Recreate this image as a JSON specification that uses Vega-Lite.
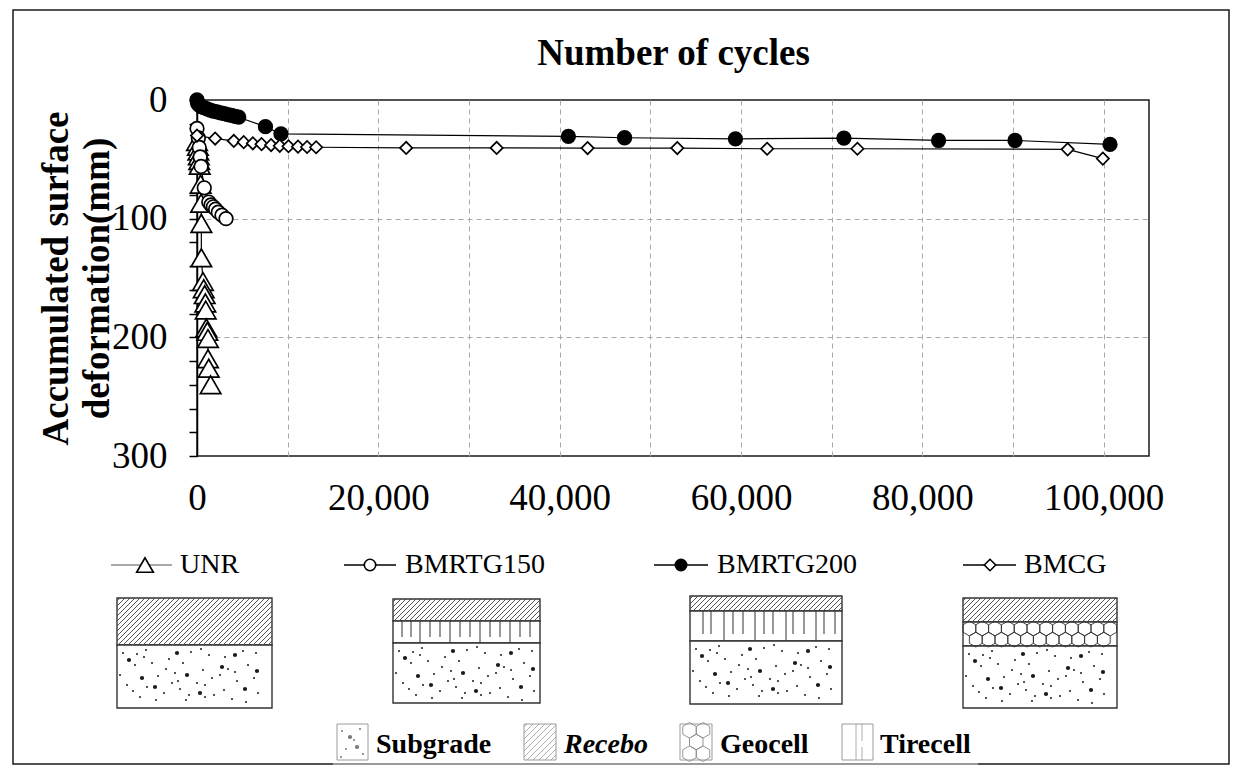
{
  "$schema": "https://vega.github.io/schema/vega-lite/v6.json",
  "width": 952,
  "height": 356,
  "autosize": {"type": "none"},
  "padding": {"left": 197, "top": 100, "right": 92, "bottom": 318},
  "background": "white",
  "config": {
    "view": {"stroke": "#1a1a1a", "strokeWidth": 1.5},
    "font": "Liberation Serif"
  },
  "datasets": {
    "deformation": [
      {"series": "UNR", "i": 0, "cycles": 0, "def": 35},
      {"series": "UNR", "i": 1, "cycles": 100, "def": 39},
      {"series": "UNR", "i": 2, "cycles": 150, "def": 43},
      {"series": "UNR", "i": 3, "cycles": 200, "def": 47},
      {"series": "UNR", "i": 4, "cycles": 250, "def": 51},
      {"series": "UNR", "i": 5, "cycles": 300, "def": 55},
      {"series": "UNR", "i": 6, "cycles": 400, "def": 71},
      {"series": "UNR", "i": 7, "cycles": 450, "def": 87},
      {"series": "UNR", "i": 8, "cycles": 480, "def": 104},
      {"series": "UNR", "i": 9, "cycles": 480, "def": 133},
      {"series": "UNR", "i": 10, "cycles": 660, "def": 153},
      {"series": "UNR", "i": 11, "cycles": 740, "def": 159},
      {"series": "UNR", "i": 12, "cycles": 850, "def": 164},
      {"series": "UNR", "i": 13, "cycles": 920, "def": 171},
      {"series": "UNR", "i": 14, "cycles": 960, "def": 177},
      {"series": "UNR", "i": 15, "cycles": 1030, "def": 192},
      {"series": "UNR", "i": 16, "cycles": 1140, "def": 195},
      {"series": "UNR", "i": 17, "cycles": 1210, "def": 201},
      {"series": "UNR", "i": 18, "cycles": 1210, "def": 218},
      {"series": "UNR", "i": 19, "cycles": 1290, "def": 226},
      {"series": "UNR", "i": 20, "cycles": 1500, "def": 240},
      {"series": "BMRTG150", "i": 0, "cycles": 0, "def": 24},
      {"series": "BMRTG150", "i": 1, "cycles": 150, "def": 32},
      {"series": "BMRTG150", "i": 2, "cycles": 250, "def": 40},
      {"series": "BMRTG150", "i": 3, "cycles": 350, "def": 48},
      {"series": "BMRTG150", "i": 4, "cycles": 450, "def": 56},
      {"series": "BMRTG150", "i": 5, "cycles": 800, "def": 74},
      {"series": "BMRTG150", "i": 6, "cycles": 1300, "def": 86},
      {"series": "BMRTG150", "i": 7, "cycles": 1550, "def": 88.5},
      {"series": "BMRTG150", "i": 8, "cycles": 1800, "def": 90},
      {"series": "BMRTG150", "i": 9, "cycles": 2050, "def": 92},
      {"series": "BMRTG150", "i": 10, "cycles": 2350, "def": 94.5},
      {"series": "BMRTG150", "i": 11, "cycles": 2750, "def": 97},
      {"series": "BMRTG150", "i": 12, "cycles": 3200, "def": 100},
      {"series": "BMRTG200", "i": 0, "cycles": 0, "def": 0},
      {"series": "BMRTG200", "i": 1, "cycles": 60, "def": 2.5},
      {"series": "BMRTG200", "i": 2, "cycles": 200, "def": 4},
      {"series": "BMRTG200", "i": 3, "cycles": 450, "def": 5.5},
      {"series": "BMRTG200", "i": 4, "cycles": 750, "def": 6.5},
      {"series": "BMRTG200", "i": 5, "cycles": 1100, "def": 7.5},
      {"series": "BMRTG200", "i": 6, "cycles": 1450, "def": 8.5},
      {"series": "BMRTG200", "i": 7, "cycles": 1800, "def": 9.3},
      {"series": "BMRTG200", "i": 8, "cycles": 2200, "def": 10},
      {"series": "BMRTG200", "i": 9, "cycles": 2600, "def": 10.8},
      {"series": "BMRTG200", "i": 10, "cycles": 3000, "def": 11.5},
      {"series": "BMRTG200", "i": 11, "cycles": 3400, "def": 12.3},
      {"series": "BMRTG200", "i": 12, "cycles": 3800, "def": 13},
      {"series": "BMRTG200", "i": 13, "cycles": 4200, "def": 13.8},
      {"series": "BMRTG200", "i": 14, "cycles": 4600, "def": 14.5},
      {"series": "BMRTG200", "i": 15, "cycles": 7550, "def": 22.5},
      {"series": "BMRTG200", "i": 16, "cycles": 9260, "def": 28.5},
      {"series": "BMRTG200", "i": 17, "cycles": 40960, "def": 30.6},
      {"series": "BMRTG200", "i": 18, "cycles": 47160, "def": 31.8},
      {"series": "BMRTG200", "i": 19, "cycles": 59390, "def": 32.7},
      {"series": "BMRTG200", "i": 20, "cycles": 71350, "def": 32.1},
      {"series": "BMRTG200", "i": 21, "cycles": 81790, "def": 34.1},
      {"series": "BMRTG200", "i": 22, "cycles": 90220, "def": 34.1},
      {"series": "BMRTG200", "i": 23, "cycles": 100700, "def": 37.4},
      {"series": "BMCG", "i": 0, "cycles": 0, "def": 30},
      {"series": "BMCG", "i": 1, "cycles": 2000, "def": 32.5},
      {"series": "BMCG", "i": 2, "cycles": 4060, "def": 34.5},
      {"series": "BMCG", "i": 3, "cycles": 5150, "def": 35.5},
      {"series": "BMCG", "i": 4, "cycles": 6160, "def": 36.5},
      {"series": "BMCG", "i": 5, "cycles": 7120, "def": 37.2},
      {"series": "BMCG", "i": 6, "cycles": 8170, "def": 38},
      {"series": "BMCG", "i": 7, "cycles": 9130, "def": 38.6},
      {"series": "BMCG", "i": 8, "cycles": 10090, "def": 39},
      {"series": "BMCG", "i": 9, "cycles": 11140, "def": 39.3},
      {"series": "BMCG", "i": 10, "cycles": 12140, "def": 39.6},
      {"series": "BMCG", "i": 11, "cycles": 13140, "def": 39.8},
      {"series": "BMCG", "i": 12, "cycles": 23070, "def": 40.4},
      {"series": "BMCG", "i": 13, "cycles": 33050, "def": 40.4},
      {"series": "BMCG", "i": 14, "cycles": 43080, "def": 40.5},
      {"series": "BMCG", "i": 15, "cycles": 52970, "def": 40.5},
      {"series": "BMCG", "i": 16, "cycles": 62880, "def": 41.1},
      {"series": "BMCG", "i": 17, "cycles": 72840, "def": 41.1},
      {"series": "BMCG", "i": 18, "cycles": 96030, "def": 41.6},
      {"series": "BMCG", "i": 19, "cycles": 99910, "def": 49.4}
    ],
    "topTicks": [
      {"cycles": 10000}, {"cycles": 20000}, {"cycles": 30000}, {"cycles": 40000}, {"cycles": 50000},
      {"cycles": 60000}, {"cycles": 70000}, {"cycles": 80000}, {"cycles": 90000}, {"cycles": 100000}
    ],
    "frame": [{"fx": 13, "fy": 10, "fx2": 1229, "fy2": 764}],
    "frameGap": [{"fx": 333, "fx2": 978, "fy": 764}],
    "keyLines": [
      {"series": "UNR", "fx": 111, "fx2": 172, "fy": 565},
      {"series": "BMRTG150", "fx": 344, "fx2": 396, "fy": 565},
      {"series": "BMRTG200", "fx": 654, "fx2": 708, "fy": 565},
      {"series": "BMCG", "fx": 963, "fx2": 1016, "fy": 565}
    ],
    "keyMarks": [
      {"series": "UNR", "fx": 145, "fy": 565},
      {"series": "BMRTG150", "fx": 370, "fy": 565},
      {"series": "BMRTG200", "fx": 681, "fy": 565},
      {"series": "BMCG", "fx": 990, "fy": 565}
    ],
    "keyText": [
      {"label": "UNR", "fx": 180, "fy": 565},
      {"label": "BMRTG150", "fx": 405, "fy": 565},
      {"label": "BMRTG200", "fx": 717, "fy": 565},
      {"label": "BMCG", "fx": 1024, "fy": 565}
    ],
    "regions": [
      {"fx": 117, "fy": 598, "fx2": 272, "fy2": 645},
      {"fx": 117, "fy": 645, "fx2": 272, "fy2": 708},
      {"fx": 393, "fy": 599, "fx2": 540, "fy2": 621},
      {"fx": 393, "fy": 621, "fx2": 540, "fy2": 643},
      {"fx": 393, "fy": 643, "fx2": 540, "fy2": 703},
      {"fx": 690, "fy": 596, "fx2": 842, "fy2": 611},
      {"fx": 690, "fy": 611, "fx2": 842, "fy2": 641},
      {"fx": 690, "fy": 641, "fx2": 842, "fy2": 704},
      {"fx": 963, "fy": 598, "fx2": 1117, "fy2": 622},
      {"fx": 963, "fy": 622, "fx2": 1117, "fy2": 646},
      {"fx": 963, "fy": 646, "fx2": 1117, "fy2": 708}
    ],
    "hatch": [
      {"fx": 117, "fy": 601, "fx2": 120, "fy2": 598}, {"fx": 117, "fy": 606, "fx2": 125, "fy2": 598},
      {"fx": 117, "fy": 611, "fx2": 130, "fy2": 598}, {"fx": 117, "fy": 616, "fx2": 135, "fy2": 598},
      {"fx": 117, "fy": 621, "fx2": 140, "fy2": 598}, {"fx": 117, "fy": 626, "fx2": 145, "fy2": 598},
      {"fx": 117, "fy": 631, "fx2": 150, "fy2": 598}, {"fx": 117, "fy": 636, "fx2": 155, "fy2": 598},
      {"fx": 117, "fy": 641, "fx2": 160, "fy2": 598}, {"fx": 118, "fy": 645, "fx2": 165, "fy2": 598},
      {"fx": 123, "fy": 645, "fx2": 170, "fy2": 598}, {"fx": 128, "fy": 645, "fx2": 175, "fy2": 598},
      {"fx": 133, "fy": 645, "fx2": 180, "fy2": 598}, {"fx": 138, "fy": 645, "fx2": 185, "fy2": 598},
      {"fx": 143, "fy": 645, "fx2": 190, "fy2": 598}, {"fx": 148, "fy": 645, "fx2": 195, "fy2": 598},
      {"fx": 153, "fy": 645, "fx2": 200, "fy2": 598}, {"fx": 158, "fy": 645, "fx2": 205, "fy2": 598},
      {"fx": 163, "fy": 645, "fx2": 210, "fy2": 598}, {"fx": 168, "fy": 645, "fx2": 215, "fy2": 598},
      {"fx": 173, "fy": 645, "fx2": 220, "fy2": 598}, {"fx": 178, "fy": 645, "fx2": 225, "fy2": 598},
      {"fx": 183, "fy": 645, "fx2": 230, "fy2": 598}, {"fx": 188, "fy": 645, "fx2": 235, "fy2": 598},
      {"fx": 193, "fy": 645, "fx2": 240, "fy2": 598}, {"fx": 198, "fy": 645, "fx2": 245, "fy2": 598},
      {"fx": 203, "fy": 645, "fx2": 250, "fy2": 598}, {"fx": 208, "fy": 645, "fx2": 255, "fy2": 598},
      {"fx": 213, "fy": 645, "fx2": 260, "fy2": 598}, {"fx": 218, "fy": 645, "fx2": 265, "fy2": 598},
      {"fx": 223, "fy": 645, "fx2": 270, "fy2": 598}, {"fx": 228, "fy": 645, "fx2": 272, "fy2": 601},
      {"fx": 233, "fy": 645, "fx2": 272, "fy2": 606}, {"fx": 238, "fy": 645, "fx2": 272, "fy2": 611},
      {"fx": 243, "fy": 645, "fx2": 272, "fy2": 616}, {"fx": 248, "fy": 645, "fx2": 272, "fy2": 621},
      {"fx": 253, "fy": 645, "fx2": 272, "fy2": 626}, {"fx": 258, "fy": 645, "fx2": 272, "fy2": 631},
      {"fx": 263, "fy": 645, "fx2": 272, "fy2": 636}, {"fx": 268, "fy": 645, "fx2": 272, "fy2": 641},

      {"fx": 393, "fy": 602, "fx2": 396, "fy2": 599}, {"fx": 393, "fy": 607, "fx2": 401, "fy2": 599},
      {"fx": 393, "fy": 612, "fx2": 406, "fy2": 599}, {"fx": 393, "fy": 617, "fx2": 411, "fy2": 599},
      {"fx": 394, "fy": 621, "fx2": 416, "fy2": 599}, {"fx": 399, "fy": 621, "fx2": 421, "fy2": 599},
      {"fx": 404, "fy": 621, "fx2": 426, "fy2": 599}, {"fx": 409, "fy": 621, "fx2": 431, "fy2": 599},
      {"fx": 414, "fy": 621, "fx2": 436, "fy2": 599}, {"fx": 419, "fy": 621, "fx2": 441, "fy2": 599},
      {"fx": 424, "fy": 621, "fx2": 446, "fy2": 599}, {"fx": 429, "fy": 621, "fx2": 451, "fy2": 599},
      {"fx": 434, "fy": 621, "fx2": 456, "fy2": 599}, {"fx": 439, "fy": 621, "fx2": 461, "fy2": 599},
      {"fx": 444, "fy": 621, "fx2": 466, "fy2": 599}, {"fx": 449, "fy": 621, "fx2": 471, "fy2": 599},
      {"fx": 454, "fy": 621, "fx2": 476, "fy2": 599}, {"fx": 459, "fy": 621, "fx2": 481, "fy2": 599},
      {"fx": 464, "fy": 621, "fx2": 486, "fy2": 599}, {"fx": 469, "fy": 621, "fx2": 491, "fy2": 599},
      {"fx": 474, "fy": 621, "fx2": 496, "fy2": 599}, {"fx": 479, "fy": 621, "fx2": 501, "fy2": 599},
      {"fx": 484, "fy": 621, "fx2": 506, "fy2": 599}, {"fx": 489, "fy": 621, "fx2": 511, "fy2": 599},
      {"fx": 494, "fy": 621, "fx2": 516, "fy2": 599}, {"fx": 499, "fy": 621, "fx2": 521, "fy2": 599},
      {"fx": 504, "fy": 621, "fx2": 526, "fy2": 599}, {"fx": 509, "fy": 621, "fx2": 531, "fy2": 599},
      {"fx": 514, "fy": 621, "fx2": 536, "fy2": 599}, {"fx": 519, "fy": 621, "fx2": 540, "fy2": 600},
      {"fx": 524, "fy": 621, "fx2": 540, "fy2": 605}, {"fx": 529, "fy": 621, "fx2": 540, "fy2": 610},
      {"fx": 534, "fy": 621, "fx2": 540, "fy2": 615},

      {"fx": 690, "fy": 599, "fx2": 693, "fy2": 596}, {"fx": 690, "fy": 604, "fx2": 698, "fy2": 596},
      {"fx": 690, "fy": 609, "fx2": 703, "fy2": 596}, {"fx": 693, "fy": 611, "fx2": 708, "fy2": 596},
      {"fx": 698, "fy": 611, "fx2": 713, "fy2": 596}, {"fx": 703, "fy": 611, "fx2": 718, "fy2": 596},
      {"fx": 708, "fy": 611, "fx2": 723, "fy2": 596}, {"fx": 713, "fy": 611, "fx2": 728, "fy2": 596},
      {"fx": 718, "fy": 611, "fx2": 733, "fy2": 596}, {"fx": 723, "fy": 611, "fx2": 738, "fy2": 596},
      {"fx": 728, "fy": 611, "fx2": 743, "fy2": 596}, {"fx": 733, "fy": 611, "fx2": 748, "fy2": 596},
      {"fx": 738, "fy": 611, "fx2": 753, "fy2": 596}, {"fx": 743, "fy": 611, "fx2": 758, "fy2": 596},
      {"fx": 748, "fy": 611, "fx2": 763, "fy2": 596}, {"fx": 753, "fy": 611, "fx2": 768, "fy2": 596},
      {"fx": 758, "fy": 611, "fx2": 773, "fy2": 596}, {"fx": 763, "fy": 611, "fx2": 778, "fy2": 596},
      {"fx": 768, "fy": 611, "fx2": 783, "fy2": 596}, {"fx": 773, "fy": 611, "fx2": 788, "fy2": 596},
      {"fx": 778, "fy": 611, "fx2": 793, "fy2": 596}, {"fx": 783, "fy": 611, "fx2": 798, "fy2": 596},
      {"fx": 788, "fy": 611, "fx2": 803, "fy2": 596}, {"fx": 793, "fy": 611, "fx2": 808, "fy2": 596},
      {"fx": 798, "fy": 611, "fx2": 813, "fy2": 596}, {"fx": 803, "fy": 611, "fx2": 818, "fy2": 596},
      {"fx": 808, "fy": 611, "fx2": 823, "fy2": 596}, {"fx": 813, "fy": 611, "fx2": 828, "fy2": 596},
      {"fx": 818, "fy": 611, "fx2": 833, "fy2": 596}, {"fx": 823, "fy": 611, "fx2": 838, "fy2": 596},
      {"fx": 828, "fy": 611, "fx2": 842, "fy2": 597}, {"fx": 833, "fy": 611, "fx2": 842, "fy2": 602},
      {"fx": 838, "fy": 611, "fx2": 842, "fy2": 607},

      {"fx": 963, "fy": 601, "fx2": 966, "fy2": 598}, {"fx": 963, "fy": 606, "fx2": 971, "fy2": 598},
      {"fx": 963, "fy": 611, "fx2": 976, "fy2": 598}, {"fx": 963, "fy": 616, "fx2": 981, "fy2": 598},
      {"fx": 963, "fy": 621, "fx2": 986, "fy2": 598}, {"fx": 967, "fy": 622, "fx2": 991, "fy2": 598},
      {"fx": 972, "fy": 622, "fx2": 996, "fy2": 598}, {"fx": 977, "fy": 622, "fx2": 1001, "fy2": 598},
      {"fx": 982, "fy": 622, "fx2": 1006, "fy2": 598}, {"fx": 987, "fy": 622, "fx2": 1011, "fy2": 598},
      {"fx": 992, "fy": 622, "fx2": 1016, "fy2": 598}, {"fx": 997, "fy": 622, "fx2": 1021, "fy2": 598},
      {"fx": 1002, "fy": 622, "fx2": 1026, "fy2": 598}, {"fx": 1007, "fy": 622, "fx2": 1031, "fy2": 598},
      {"fx": 1012, "fy": 622, "fx2": 1036, "fy2": 598}, {"fx": 1017, "fy": 622, "fx2": 1041, "fy2": 598},
      {"fx": 1022, "fy": 622, "fx2": 1046, "fy2": 598}, {"fx": 1027, "fy": 622, "fx2": 1051, "fy2": 598},
      {"fx": 1032, "fy": 622, "fx2": 1056, "fy2": 598}, {"fx": 1037, "fy": 622, "fx2": 1061, "fy2": 598},
      {"fx": 1042, "fy": 622, "fx2": 1066, "fy2": 598}, {"fx": 1047, "fy": 622, "fx2": 1071, "fy2": 598},
      {"fx": 1052, "fy": 622, "fx2": 1076, "fy2": 598}, {"fx": 1057, "fy": 622, "fx2": 1081, "fy2": 598},
      {"fx": 1062, "fy": 622, "fx2": 1086, "fy2": 598}, {"fx": 1067, "fy": 622, "fx2": 1091, "fy2": 598},
      {"fx": 1072, "fy": 622, "fx2": 1096, "fy2": 598}, {"fx": 1077, "fy": 622, "fx2": 1101, "fy2": 598},
      {"fx": 1082, "fy": 622, "fx2": 1106, "fy2": 598}, {"fx": 1087, "fy": 622, "fx2": 1111, "fy2": 598},
      {"fx": 1092, "fy": 622, "fx2": 1116, "fy2": 598}, {"fx": 1097, "fy": 622, "fx2": 1117, "fy2": 602},
      {"fx": 1102, "fy": 622, "fx2": 1117, "fy2": 607}, {"fx": 1107, "fy": 622, "fx2": 1117, "fy2": 612},
      {"fx": 1112, "fy": 622, "fx2": 1117, "fy2": 617}
    ],
    "tire": [
      {"fx": 402, "fy": 621, "fx2": 402, "fy2": 637}, {"fx": 411, "fy": 621, "fx2": 411, "fy2": 637},
      {"fx": 420, "fy": 621, "fx2": 420, "fy2": 643}, {"fx": 430, "fy": 621, "fx2": 430, "fy2": 637},
      {"fx": 440, "fy": 621, "fx2": 440, "fy2": 637}, {"fx": 450, "fy": 621, "fx2": 450, "fy2": 643},
      {"fx": 460, "fy": 621, "fx2": 460, "fy2": 637}, {"fx": 470, "fy": 621, "fx2": 470, "fy2": 637},
      {"fx": 480, "fy": 621, "fx2": 480, "fy2": 643}, {"fx": 490, "fy": 621, "fx2": 490, "fy2": 637},
      {"fx": 500, "fy": 621, "fx2": 500, "fy2": 637}, {"fx": 510, "fy": 621, "fx2": 510, "fy2": 643},
      {"fx": 520, "fy": 621, "fx2": 520, "fy2": 637}, {"fx": 530, "fy": 621, "fx2": 530, "fy2": 637},
      {"fx": 703, "fy": 611, "fx2": 703, "fy2": 634}, {"fx": 711, "fy": 611, "fx2": 711, "fy2": 634},
      {"fx": 724, "fy": 611, "fx2": 724, "fy2": 641}, {"fx": 733, "fy": 611, "fx2": 733, "fy2": 634},
      {"fx": 743, "fy": 611, "fx2": 743, "fy2": 634}, {"fx": 755, "fy": 611, "fx2": 755, "fy2": 641},
      {"fx": 764, "fy": 611, "fx2": 764, "fy2": 634}, {"fx": 773, "fy": 611, "fx2": 773, "fy2": 634},
      {"fx": 786, "fy": 611, "fx2": 786, "fy2": 641}, {"fx": 793, "fy": 611, "fx2": 793, "fy2": 634},
      {"fx": 804, "fy": 611, "fx2": 804, "fy2": 634}, {"fx": 816, "fy": 611, "fx2": 816, "fy2": 641},
      {"fx": 824, "fy": 611, "fx2": 824, "fy2": 634}, {"fx": 835, "fy": 611, "fx2": 835, "fy2": 634}
    ],
    "hexes": [
      {"kind": "box", "fx": 969.4, "fy": 628.5}, {"kind": "box", "fx": 982.2, "fy": 628.5},
      {"kind": "box", "fx": 995, "fy": 628.5}, {"kind": "box", "fx": 1007.8, "fy": 628.5},
      {"kind": "box", "fx": 1020.6, "fy": 628.5}, {"kind": "box", "fx": 1033.4, "fy": 628.5},
      {"kind": "box", "fx": 1046.2, "fy": 628.5}, {"kind": "box", "fx": 1059, "fy": 628.5},
      {"kind": "box", "fx": 1071.8, "fy": 628.5}, {"kind": "box", "fx": 1084.6, "fy": 628.5},
      {"kind": "box", "fx": 1097.4, "fy": 628.5}, {"kind": "box", "fx": 1110.2, "fy": 628.5},
      {"kind": "box", "fx": 975.8, "fy": 639.6}, {"kind": "box", "fx": 988.6, "fy": 639.6},
      {"kind": "box", "fx": 1001.4, "fy": 639.6}, {"kind": "box", "fx": 1014.2, "fy": 639.6},
      {"kind": "box", "fx": 1027, "fy": 639.6}, {"kind": "box", "fx": 1039.8, "fy": 639.6},
      {"kind": "box", "fx": 1052.6, "fy": 639.6}, {"kind": "box", "fx": 1065.4, "fy": 639.6},
      {"kind": "box", "fx": 1078.2, "fy": 639.6}, {"kind": "box", "fx": 1091, "fy": 639.6},
      {"kind": "box", "fx": 1103.8, "fy": 639.6},
      {"kind": "icon", "fx": 689.5, "fy": 730.3}, {"kind": "icon", "fx": 703, "fy": 730.3},
      {"kind": "icon", "fx": 696.25, "fy": 742}, {"kind": "icon", "fx": 689.5, "fy": 753.7},
      {"kind": "icon", "fx": 703, "fy": 753.7}
    ],
    "dots": [
      {"kind": "box", "grain": "fine", "fx": 123, "fy": 653}, {"kind": "box", "grain": "fine", "fx": 135, "fy": 665},
      {"kind": "box", "grain": "fine", "fx": 146, "fy": 650}, {"kind": "box", "grain": "fine", "fx": 158, "fy": 676},
      {"kind": "box", "grain": "fine", "fx": 169, "fy": 659}, {"kind": "box", "grain": "fine", "fx": 180, "fy": 689},
      {"kind": "box", "grain": "fine", "fx": 191, "fy": 652}, {"kind": "box", "grain": "fine", "fx": 203, "fy": 670},
      {"kind": "box", "grain": "fine", "fx": 214, "fy": 695}, {"kind": "box", "grain": "fine", "fx": 225, "fy": 657},
      {"kind": "box", "grain": "fine", "fx": 237, "fy": 681}, {"kind": "box", "grain": "fine", "fx": 248, "fy": 665},
      {"kind": "box", "grain": "fine", "fx": 258, "fy": 693}, {"kind": "box", "grain": "fine", "fx": 127, "fy": 685},
      {"kind": "box", "grain": "fine", "fx": 140, "fy": 697}, {"kind": "box", "grain": "fine", "fx": 152, "fy": 663},
      {"kind": "box", "grain": "fine", "fx": 164, "fy": 693}, {"kind": "box", "grain": "fine", "fx": 175, "fy": 673},
      {"kind": "box", "grain": "fine", "fx": 186, "fy": 700}, {"kind": "box", "grain": "fine", "fx": 197, "fy": 683},
      {"kind": "box", "grain": "fine", "fx": 209, "fy": 655}, {"kind": "box", "grain": "fine", "fx": 220, "fy": 675},
      {"kind": "box", "grain": "fine", "fx": 232, "fy": 699}, {"kind": "box", "grain": "fine", "fx": 243, "fy": 651},
      {"kind": "box", "grain": "fine", "fx": 254, "fy": 678}, {"kind": "box", "grain": "fine", "fx": 147, "fy": 687},
      {"kind": "box", "grain": "fine", "fx": 172, "fy": 683}, {"kind": "box", "grain": "fine", "fx": 205, "fy": 685},
      {"kind": "box", "grain": "fine", "fx": 228, "fy": 669}, {"kind": "box", "grain": "fine", "fx": 183, "fy": 663},
      {"kind": "box", "grain": "fine", "fx": 120, "fy": 675}, {"kind": "box", "grain": "fine", "fx": 133, "fy": 691},
      {"kind": "box", "grain": "fine", "fx": 144, "fy": 657}, {"kind": "box", "grain": "fine", "fx": 156, "fy": 700},
      {"kind": "box", "grain": "fine", "fx": 166, "fy": 669}, {"kind": "box", "grain": "fine", "fx": 178, "fy": 681},
      {"kind": "box", "grain": "fine", "fx": 189, "fy": 695}, {"kind": "box", "grain": "fine", "fx": 201, "fy": 649},
      {"kind": "box", "grain": "fine", "fx": 212, "fy": 678}, {"kind": "box", "grain": "fine", "fx": 224, "fy": 690},
      {"kind": "box", "grain": "fine", "fx": 235, "fy": 672}, {"kind": "box", "grain": "fine", "fx": 246, "fy": 702},
      {"kind": "box", "grain": "fine", "fx": 256, "fy": 653}, {"kind": "box", "grain": "fine", "fx": 137, "fy": 654},
      {"kind": "box", "grain": "fine", "fx": 205, "fy": 697},
      {"kind": "box", "grain": "coarse", "fx": 129, "fy": 660}, {"kind": "box", "grain": "coarse", "fx": 155, "fy": 687},
      {"kind": "box", "grain": "coarse", "fx": 177, "fy": 653}, {"kind": "box", "grain": "coarse", "fx": 200, "fy": 693},
      {"kind": "box", "grain": "coarse", "fx": 222, "fy": 667}, {"kind": "box", "grain": "coarse", "fx": 245, "fy": 689},
      {"kind": "box", "grain": "coarse", "fx": 142, "fy": 678}, {"kind": "box", "grain": "coarse", "fx": 187, "fy": 675},
      {"kind": "box", "grain": "coarse", "fx": 235, "fy": 655}, {"kind": "box", "grain": "coarse", "fx": 257, "fy": 671},

      {"kind": "box", "grain": "fine", "fx": 399, "fy": 651}, {"kind": "box", "grain": "fine", "fx": 411, "fy": 663},
      {"kind": "box", "grain": "fine", "fx": 422, "fy": 648}, {"kind": "box", "grain": "fine", "fx": 434, "fy": 674},
      {"kind": "box", "grain": "fine", "fx": 445, "fy": 657}, {"kind": "box", "grain": "fine", "fx": 456, "fy": 687},
      {"kind": "box", "grain": "fine", "fx": 467, "fy": 650}, {"kind": "box", "grain": "fine", "fx": 479, "fy": 668},
      {"kind": "box", "grain": "fine", "fx": 490, "fy": 693}, {"kind": "box", "grain": "fine", "fx": 501, "fy": 655},
      {"kind": "box", "grain": "fine", "fx": 513, "fy": 679}, {"kind": "box", "grain": "fine", "fx": 524, "fy": 663},
      {"kind": "box", "grain": "fine", "fx": 534, "fy": 691}, {"kind": "box", "grain": "fine", "fx": 403, "fy": 683},
      {"kind": "box", "grain": "fine", "fx": 416, "fy": 695}, {"kind": "box", "grain": "fine", "fx": 428, "fy": 661},
      {"kind": "box", "grain": "fine", "fx": 440, "fy": 691}, {"kind": "box", "grain": "fine", "fx": 451, "fy": 671},
      {"kind": "box", "grain": "fine", "fx": 462, "fy": 698}, {"kind": "box", "grain": "fine", "fx": 473, "fy": 681},
      {"kind": "box", "grain": "fine", "fx": 485, "fy": 653}, {"kind": "box", "grain": "fine", "fx": 496, "fy": 673},
      {"kind": "box", "grain": "fine", "fx": 508, "fy": 697}, {"kind": "box", "grain": "fine", "fx": 519, "fy": 649},
      {"kind": "box", "grain": "fine", "fx": 530, "fy": 676}, {"kind": "box", "grain": "fine", "fx": 423, "fy": 685},
      {"kind": "box", "grain": "fine", "fx": 448, "fy": 681}, {"kind": "box", "grain": "fine", "fx": 481, "fy": 683},
      {"kind": "box", "grain": "fine", "fx": 504, "fy": 667}, {"kind": "box", "grain": "fine", "fx": 459, "fy": 661},
      {"kind": "box", "grain": "fine", "fx": 396, "fy": 673}, {"kind": "box", "grain": "fine", "fx": 409, "fy": 689},
      {"kind": "box", "grain": "fine", "fx": 420, "fy": 655}, {"kind": "box", "grain": "fine", "fx": 432, "fy": 698},
      {"kind": "box", "grain": "fine", "fx": 442, "fy": 667}, {"kind": "box", "grain": "fine", "fx": 454, "fy": 679},
      {"kind": "box", "grain": "fine", "fx": 465, "fy": 693}, {"kind": "box", "grain": "fine", "fx": 477, "fy": 647},
      {"kind": "box", "grain": "fine", "fx": 488, "fy": 676}, {"kind": "box", "grain": "fine", "fx": 500, "fy": 688},
      {"kind": "box", "grain": "fine", "fx": 511, "fy": 670}, {"kind": "box", "grain": "fine", "fx": 522, "fy": 700},
      {"kind": "box", "grain": "fine", "fx": 532, "fy": 651}, {"kind": "box", "grain": "fine", "fx": 413, "fy": 652},
      {"kind": "box", "grain": "fine", "fx": 481, "fy": 695},
      {"kind": "box", "grain": "coarse", "fx": 405, "fy": 658}, {"kind": "box", "grain": "coarse", "fx": 431, "fy": 685},
      {"kind": "box", "grain": "coarse", "fx": 453, "fy": 651}, {"kind": "box", "grain": "coarse", "fx": 476, "fy": 691},
      {"kind": "box", "grain": "coarse", "fx": 498, "fy": 665}, {"kind": "box", "grain": "coarse", "fx": 521, "fy": 687},
      {"kind": "box", "grain": "coarse", "fx": 418, "fy": 676}, {"kind": "box", "grain": "coarse", "fx": 463, "fy": 673},
      {"kind": "box", "grain": "coarse", "fx": 511, "fy": 653}, {"kind": "box", "grain": "coarse", "fx": 533, "fy": 669},

      {"kind": "box", "grain": "fine", "fx": 696, "fy": 649}, {"kind": "box", "grain": "fine", "fx": 708, "fy": 661},
      {"kind": "box", "grain": "fine", "fx": 719, "fy": 646}, {"kind": "box", "grain": "fine", "fx": 731, "fy": 672},
      {"kind": "box", "grain": "fine", "fx": 742, "fy": 655}, {"kind": "box", "grain": "fine", "fx": 753, "fy": 685},
      {"kind": "box", "grain": "fine", "fx": 764, "fy": 648}, {"kind": "box", "grain": "fine", "fx": 776, "fy": 666},
      {"kind": "box", "grain": "fine", "fx": 787, "fy": 691}, {"kind": "box", "grain": "fine", "fx": 798, "fy": 653},
      {"kind": "box", "grain": "fine", "fx": 810, "fy": 677}, {"kind": "box", "grain": "fine", "fx": 821, "fy": 661},
      {"kind": "box", "grain": "fine", "fx": 831, "fy": 689}, {"kind": "box", "grain": "fine", "fx": 700, "fy": 681},
      {"kind": "box", "grain": "fine", "fx": 713, "fy": 693}, {"kind": "box", "grain": "fine", "fx": 725, "fy": 659},
      {"kind": "box", "grain": "fine", "fx": 737, "fy": 689}, {"kind": "box", "grain": "fine", "fx": 748, "fy": 669},
      {"kind": "box", "grain": "fine", "fx": 759, "fy": 696}, {"kind": "box", "grain": "fine", "fx": 770, "fy": 679},
      {"kind": "box", "grain": "fine", "fx": 782, "fy": 651}, {"kind": "box", "grain": "fine", "fx": 793, "fy": 671},
      {"kind": "box", "grain": "fine", "fx": 805, "fy": 695}, {"kind": "box", "grain": "fine", "fx": 816, "fy": 647},
      {"kind": "box", "grain": "fine", "fx": 827, "fy": 674}, {"kind": "box", "grain": "fine", "fx": 720, "fy": 683},
      {"kind": "box", "grain": "fine", "fx": 745, "fy": 679}, {"kind": "box", "grain": "fine", "fx": 778, "fy": 681},
      {"kind": "box", "grain": "fine", "fx": 801, "fy": 665}, {"kind": "box", "grain": "fine", "fx": 756, "fy": 659},
      {"kind": "box", "grain": "fine", "fx": 693, "fy": 671}, {"kind": "box", "grain": "fine", "fx": 706, "fy": 687},
      {"kind": "box", "grain": "fine", "fx": 717, "fy": 653}, {"kind": "box", "grain": "fine", "fx": 729, "fy": 696},
      {"kind": "box", "grain": "fine", "fx": 739, "fy": 665}, {"kind": "box", "grain": "fine", "fx": 751, "fy": 677},
      {"kind": "box", "grain": "fine", "fx": 762, "fy": 691}, {"kind": "box", "grain": "fine", "fx": 774, "fy": 645},
      {"kind": "box", "grain": "fine", "fx": 785, "fy": 674}, {"kind": "box", "grain": "fine", "fx": 797, "fy": 686},
      {"kind": "box", "grain": "fine", "fx": 808, "fy": 668}, {"kind": "box", "grain": "fine", "fx": 819, "fy": 698},
      {"kind": "box", "grain": "fine", "fx": 829, "fy": 649}, {"kind": "box", "grain": "fine", "fx": 710, "fy": 650},
      {"kind": "box", "grain": "fine", "fx": 778, "fy": 693},
      {"kind": "box", "grain": "coarse", "fx": 702, "fy": 656}, {"kind": "box", "grain": "coarse", "fx": 728, "fy": 683},
      {"kind": "box", "grain": "coarse", "fx": 750, "fy": 649}, {"kind": "box", "grain": "coarse", "fx": 773, "fy": 689},
      {"kind": "box", "grain": "coarse", "fx": 795, "fy": 663}, {"kind": "box", "grain": "coarse", "fx": 818, "fy": 685},
      {"kind": "box", "grain": "coarse", "fx": 715, "fy": 674}, {"kind": "box", "grain": "coarse", "fx": 760, "fy": 671},
      {"kind": "box", "grain": "coarse", "fx": 808, "fy": 651}, {"kind": "box", "grain": "coarse", "fx": 830, "fy": 667},

      {"kind": "box", "grain": "fine", "fx": 969, "fy": 654}, {"kind": "box", "grain": "fine", "fx": 981, "fy": 666},
      {"kind": "box", "grain": "fine", "fx": 992, "fy": 651}, {"kind": "box", "grain": "fine", "fx": 1004, "fy": 677},
      {"kind": "box", "grain": "fine", "fx": 1015, "fy": 660}, {"kind": "box", "grain": "fine", "fx": 1026, "fy": 690},
      {"kind": "box", "grain": "fine", "fx": 1037, "fy": 653}, {"kind": "box", "grain": "fine", "fx": 1049, "fy": 671},
      {"kind": "box", "grain": "fine", "fx": 1060, "fy": 696}, {"kind": "box", "grain": "fine", "fx": 1071, "fy": 658},
      {"kind": "box", "grain": "fine", "fx": 1083, "fy": 682}, {"kind": "box", "grain": "fine", "fx": 1094, "fy": 666},
      {"kind": "box", "grain": "fine", "fx": 1104, "fy": 694}, {"kind": "box", "grain": "fine", "fx": 973, "fy": 686},
      {"kind": "box", "grain": "fine", "fx": 986, "fy": 698}, {"kind": "box", "grain": "fine", "fx": 998, "fy": 664},
      {"kind": "box", "grain": "fine", "fx": 1010, "fy": 694}, {"kind": "box", "grain": "fine", "fx": 1021, "fy": 674},
      {"kind": "box", "grain": "fine", "fx": 1032, "fy": 701}, {"kind": "box", "grain": "fine", "fx": 1043, "fy": 684},
      {"kind": "box", "grain": "fine", "fx": 1055, "fy": 656}, {"kind": "box", "grain": "fine", "fx": 1066, "fy": 676},
      {"kind": "box", "grain": "fine", "fx": 1078, "fy": 700}, {"kind": "box", "grain": "fine", "fx": 1089, "fy": 652},
      {"kind": "box", "grain": "fine", "fx": 1100, "fy": 679}, {"kind": "box", "grain": "fine", "fx": 993, "fy": 688},
      {"kind": "box", "grain": "fine", "fx": 1018, "fy": 684}, {"kind": "box", "grain": "fine", "fx": 1051, "fy": 686},
      {"kind": "box", "grain": "fine", "fx": 1074, "fy": 670}, {"kind": "box", "grain": "fine", "fx": 1029, "fy": 664},
      {"kind": "box", "grain": "fine", "fx": 966, "fy": 676}, {"kind": "box", "grain": "fine", "fx": 979, "fy": 692},
      {"kind": "box", "grain": "fine", "fx": 990, "fy": 658}, {"kind": "box", "grain": "fine", "fx": 1002, "fy": 701},
      {"kind": "box", "grain": "fine", "fx": 1012, "fy": 670}, {"kind": "box", "grain": "fine", "fx": 1024, "fy": 682},
      {"kind": "box", "grain": "fine", "fx": 1035, "fy": 696}, {"kind": "box", "grain": "fine", "fx": 1047, "fy": 650},
      {"kind": "box", "grain": "fine", "fx": 1058, "fy": 679}, {"kind": "box", "grain": "fine", "fx": 1070, "fy": 691},
      {"kind": "box", "grain": "fine", "fx": 1081, "fy": 673}, {"kind": "box", "grain": "fine", "fx": 1092, "fy": 703},
      {"kind": "box", "grain": "fine", "fx": 1102, "fy": 654}, {"kind": "box", "grain": "fine", "fx": 983, "fy": 655},
      {"kind": "box", "grain": "fine", "fx": 1051, "fy": 698},
      {"kind": "box", "grain": "coarse", "fx": 975, "fy": 661}, {"kind": "box", "grain": "coarse", "fx": 1001, "fy": 688},
      {"kind": "box", "grain": "coarse", "fx": 1023, "fy": 654}, {"kind": "box", "grain": "coarse", "fx": 1046, "fy": 694},
      {"kind": "box", "grain": "coarse", "fx": 1068, "fy": 668}, {"kind": "box", "grain": "coarse", "fx": 1091, "fy": 690},
      {"kind": "box", "grain": "coarse", "fx": 988, "fy": 679}, {"kind": "box", "grain": "coarse", "fx": 1033, "fy": 676},
      {"kind": "box", "grain": "coarse", "fx": 1081, "fy": 656}, {"kind": "box", "grain": "coarse", "fx": 1103, "fy": 672},

      {"kind": "icon", "grain": "fine", "fx": 342, "fy": 731}, {"kind": "icon", "grain": "fine", "fx": 360, "fy": 729},
      {"kind": "icon", "grain": "fine", "fx": 346, "fy": 749}, {"kind": "icon", "grain": "fine", "fx": 363, "fy": 754},
      {"kind": "icon", "grain": "fine", "fx": 341, "fy": 757}, {"kind": "icon", "grain": "fine", "fx": 354, "fy": 740},
      {"kind": "icon", "grain": "coarse", "fx": 350, "fy": 737}, {"kind": "icon", "grain": "coarse", "fx": 357, "fy": 747}
    ],
    "iconRects": [
      {"fx": 337, "fy": 724, "fx2": 368, "fy2": 760},
      {"fx": 524, "fy": 724, "fx2": 556, "fy2": 760},
      {"fx": 680, "fy": 724, "fx2": 712, "fy2": 760},
      {"fx": 842, "fy": 724, "fx2": 873, "fy2": 760}
    ],
    "iconLines": [
      {"fx": 524, "fy": 727, "fx2": 527, "fy2": 724}, {"fx": 524, "fy": 733, "fx2": 533, "fy2": 724},
      {"fx": 524, "fy": 739, "fx2": 539, "fy2": 724}, {"fx": 524, "fy": 745, "fx2": 545, "fy2": 724},
      {"fx": 524, "fy": 751, "fx2": 551, "fy2": 724}, {"fx": 524, "fy": 757, "fx2": 556, "fy2": 725},
      {"fx": 527, "fy": 760, "fx2": 556, "fy2": 731}, {"fx": 533, "fy": 760, "fx2": 556, "fy2": 737},
      {"fx": 539, "fy": 760, "fx2": 556, "fy2": 743}, {"fx": 545, "fy": 760, "fx2": 556, "fy2": 749},
      {"fx": 551, "fy": 760, "fx2": 556, "fy2": 755},
      {"fx": 856, "fy": 724, "fx2": 856, "fy2": 760}, {"fx": 862, "fy": 724, "fx2": 862, "fy2": 741},
      {"fx": 862, "fy": 747, "fx2": 862, "fy2": 760}
    ],
    "keyText2": [
      {"label": "Subgrade", "style": "plain", "fx": 376, "fy": 745},
      {"label": "Recebo", "style": "italic", "fx": 564, "fy": 745},
      {"label": "Geocell", "style": "plain", "fx": 720, "fy": 745},
      {"label": "Tirecell", "style": "plain", "fx": 880, "fy": 745}
    ]
  },
  "layer": [
    {
      "data": {"name": "deformation"},
      "encoding": {
        "y": {
          "field": "def",
          "type": "quantitative",
          "scale": {"domain": [0, 300], "reverse": true, "nice": false},
          "axis": {
            "title": ["Accumulated surface", "deformation(mm)"],
            "titleFont": "Liberation Serif",
            "titleFontSize": 37,
            "titleFontWeight": "bold",
            "titleColor": "black",
            "titleLineHeight": 41,
            "titlePadding": -5,
            "values": [0, 20, 40, 60, 80, 100, 120, 140, 160, 180, 200, 220, 240, 260, 280, 300],
            "labelExpr": "datum.value % 100 === 0 ? datum.label : ''",
            "labelFont": "Liberation Serif",
            "labelFontSize": 37,
            "labelColor": "black",
            "labelPadding": 22,
            "labelOverlap": false,
            "labelFlush": false,
            "tickSize": 8,
            "tickColor": "black",
            "tickWidth": 1.5,
            "domainColor": "black",
            "domainWidth": 1.5,
            "grid": true,
            "gridColor": "#a8a8a8",
            "gridDash": [5, 4],
            "gridOpacity": {"condition": {"test": "datum.value === 100 || datum.value === 200", "value": 1}, "value": 0}
          }
        }
      },
      "layer": [
        {
          "mark": {"type": "line", "color": "black", "strokeWidth": 1.2},
          "encoding": {
            "x": {
              "field": "cycles",
              "type": "quantitative",
              "scale": {"domain": [0, 105000], "nice": false},
              "axis": {
                "orient": "top",
                "values": [10000, 20000, 30000, 40000, 50000, 60000, 70000, 80000, 90000, 100000],
                "labels": false,
                "ticks": false,
                "domain": false,
                "grid": true,
                "gridColor": "#a8a8a8",
                "gridDash": [5, 4],
                "title": "Number of cycles",
                "titleFont": "Liberation Serif",
                "titleFontSize": 37,
                "titleFontWeight": "bold",
                "titleColor": "black",
                "titlePadding": 28
              }
            },
            "detail": {"field": "series"},
            "order": {"field": "i"}
          }
        },
        {
          "mark": {"type": "point", "filled": true, "stroke": "black", "strokeWidth": 1.7, "opacity": 1},
          "encoding": {
            "x": {
              "field": "cycles",
              "type": "quantitative",
              "scale": {"domain": [0, 105000], "nice": false},
              "axis": {
                "orient": "bottom",
                "values": [0, 20000, 40000, 60000, 80000, 100000],
                "format": ",d",
                "labelFont": "Liberation Serif",
                "labelFontSize": 37,
                "labelColor": "black",
                "labelPadding": 24,
                "labelFlush": false,
                "labelOverlap": false,
                "ticks": false,
                "domain": false,
                "grid": false,
                "title": null
              }
            },
            "shape": {
              "field": "series",
              "scale": {"domain": ["UNR", "BMRTG150", "BMRTG200", "BMCG"], "range": ["triangle-up", "circle", "circle", "diamond"]},
              "legend": null
            },
            "fill": {
              "field": "series",
              "scale": {"domain": ["UNR", "BMRTG150", "BMRTG200", "BMCG"], "range": ["white", "white", "black", "white"]},
              "legend": null
            },
            "size": {
              "condition": [
                {"test": "datum.series === 'UNR'", "value": 420},
                {"test": "datum.series === 'BMCG'", "value": 150}
              ],
              "value": 185
            }
          }
        },
        {
          "data": {"name": "topTicks"},
          "mark": {"type": "rule", "color": "black", "strokeWidth": 1.5},
          "encoding": {
            "x": {"field": "cycles", "type": "quantitative", "axis": null},
            "y": {"datum": -8.5},
            "y2": {"datum": 8.5}
          }
        }
      ],
      "resolve": {"axis": {"x": "independent"}}
    },
    {
      "encoding": {
        "x": {"field": "fx", "type": "quantitative", "scale": {"domain": [197, 1149], "nice": false, "zero": false}, "axis": null},
        "y": {"field": "fy", "type": "quantitative", "scale": {"domain": [100, 456], "nice": false, "zero": false, "reverse": true}, "axis": null}
      },
      "layer": [
        {
          "data": {"name": "frame"},
          "mark": {"type": "rect", "fill": null, "fillOpacity": 0, "stroke": "#1a1a1a", "strokeWidth": 1.5},
          "encoding": {"x2": {"field": "fx2"}, "y2": {"field": "fy2"}}
        },
        {
          "data": {"name": "frameGap"},
          "mark": {"type": "rule", "color": "#9a9a9a", "strokeWidth": 2},
          "encoding": {"x2": {"field": "fx2"}}
        },
        {
          "data": {"name": "keyLines"},
          "mark": {"type": "rule", "strokeWidth": 1.4},
          "encoding": {
            "x2": {"field": "fx2"},
            "stroke": {"condition": {"test": "datum.series === 'UNR'", "value": "#8c8c8c"}, "value": "black"}
          }
        },
        {
          "data": {"name": "keyMarks"},
          "mark": {"type": "point", "filled": true, "stroke": "black", "strokeWidth": 1.6, "opacity": 1},
          "encoding": {
            "shape": {
              "field": "series",
              "scale": {"domain": ["UNR", "BMRTG150", "BMRTG200", "BMCG"], "range": ["triangle-up", "circle", "circle", "diamond"]},
              "legend": null
            },
            "fill": {
              "field": "series",
              "scale": {"domain": ["UNR", "BMRTG150", "BMRTG200", "BMCG"], "range": ["white", "white", "black", "white"]},
              "legend": null
            },
            "size": {"condition": {"test": "datum.series === 'UNR'", "value": 280}, "value": 130}
          }
        },
        {
          "data": {"name": "keyText"},
          "mark": {"type": "text", "align": "left", "baseline": "middle", "font": "Liberation Serif", "fontSize": 28, "color": "black"},
          "encoding": {"text": {"field": "label"}}
        },
        {
          "data": {"name": "regions"},
          "mark": {"type": "rect", "fill": "white", "stroke": "#333333", "strokeWidth": 1.4},
          "encoding": {"x2": {"field": "fx2"}, "y2": {"field": "fy2"}}
        },
        {
          "data": {"name": "hatch"},
          "mark": {"type": "rule", "color": "#444444", "strokeWidth": 0.9},
          "encoding": {"x2": {"field": "fx2"}, "y2": {"field": "fy2"}}
        },
        {
          "data": {"name": "tire"},
          "mark": {"type": "rule", "color": "#333333", "strokeWidth": 1},
          "encoding": {"x2": {"field": "fx2"}, "y2": {"field": "fy2"}}
        },
        {
          "data": {"name": "iconRects"},
          "mark": {"type": "rect", "fill": "white", "stroke": "#9a9a9a", "strokeWidth": 1},
          "encoding": {"x2": {"field": "fx2"}, "y2": {"field": "fy2"}}
        },
        {
          "data": {"name": "iconLines"},
          "mark": {"type": "rule", "color": "#9a9a9a", "strokeWidth": 0.8},
          "encoding": {"x2": {"field": "fx2"}, "y2": {"field": "fy2"}}
        },
        {
          "data": {"name": "hexes"},
          "mark": {"type": "point", "filled": false, "strokeWidth": 0.9, "opacity": 1, "shape": "M0,-1L0.866,-0.5L0.866,0.5L0,1L-0.866,0.5L-0.866,-0.5Z"},
          "encoding": {
            "size": {"condition": {"test": "datum.kind === 'icon'", "value": 243}, "value": 219},
            "stroke": {"condition": {"test": "datum.kind === 'icon'", "value": "#8a8a8a"}, "value": "#333333"}
          }
        },
        {
          "data": {"name": "dots"},
          "mark": {"type": "circle", "opacity": 1},
          "encoding": {
            "size": {"condition": {"test": "datum.grain === 'coarse'", "value": 18}, "value": 4},
            "fill": {"condition": {"test": "datum.kind === 'icon'", "value": "#777777"}, "value": "#1a1a1a"}
          }
        },
        {
          "data": {"name": "keyText2"},
          "transform": [{"filter": "datum.style === 'plain'"}],
          "mark": {"type": "text", "align": "left", "baseline": "middle", "font": "Liberation Serif", "fontSize": 28, "fontWeight": "bold", "color": "black"},
          "encoding": {"text": {"field": "label"}}
        },
        {
          "data": {"name": "keyText2"},
          "transform": [{"filter": "datum.style === 'italic'"}],
          "mark": {"type": "text", "align": "left", "baseline": "middle", "font": "Liberation Serif", "fontSize": 28, "fontWeight": "bold", "fontStyle": "italic", "color": "black"},
          "encoding": {"text": {"field": "label"}}
        }
      ]
    }
  ],
  "resolve": {"scale": {"x": "independent", "y": "independent"}}
}
